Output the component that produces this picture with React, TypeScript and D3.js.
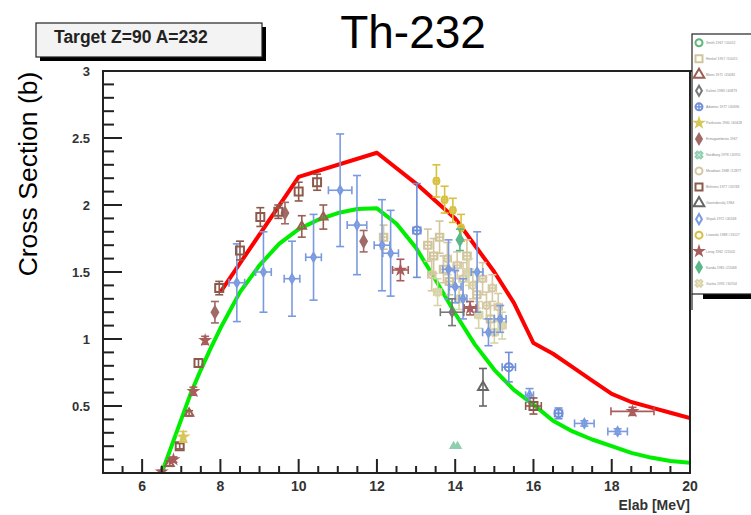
import React from "react";
import * as d3 from "d3";

// ---------- data ----------
const xDomain: [number, number] = [5, 20];
const yDomain: [number, number] = [0, 3];
const xMajorTicks = [6, 8, 10, 12, 14, 16, 18, 20];
const xTickLabels = ["6", "8", "10", "12", "14", "16", "18", "20"];
const yMajorTicks = [0.5, 1, 1.5, 2, 2.5, 3];
const yTickLabels = ["0.5", "1", "1.5", "2", "2.5", "3"];

const redE = [8, 10, 12, 13, 14, 14.5, 15, 15.5, 16, 16.5, 17, 17.5, 18, 18.5, 19, 19.5, 20];
const redXS = [1.35, 2.21, 2.39, 2.16, 1.9, 1.7, 1.5, 1.27, 0.97, 0.89, 0.79, 0.69, 0.59, 0.53, 0.49, 0.45, 0.41];

const greenE = [6.5, 6.75, 7, 7.25, 7.5, 7.75, 8, 8.5, 9, 9.5, 10, 10.5, 11, 11.5, 12, 12.5, 13, 13.5, 14, 14.5, 15, 15.5, 16, 16.5, 17, 17.5, 18, 18.5, 19, 19.5, 20];
const greenXS = [0, 0.2, 0.4, 0.6, 0.77, 0.93, 1.08, 1.35, 1.55, 1.71, 1.82, 1.89, 1.94, 1.97, 1.975, 1.86, 1.68, 1.44, 1.19, 0.96, 0.77, 0.62, 0.51, 0.39, 0.31, 0.25, 0.2, 0.15, 0.115, 0.09, 0.077];

const legendLabels = [
  "Smith 1967 #10012",
  "Henkel 1957 #10015",
  "Blons 1971 #20081",
  "Kalinin 1983 #40873",
  "Adamov 1977 #40396",
  "Pankratov 1960 #40428",
  "Ermagambetov 1967",
  "Nordborg 1978 #20911",
  "Meadows 1988 #12877",
  "Behrens 1977 #20748",
  "Goverdovskij 1984",
  "Shpak 1972 #40168",
  "Lisowski 1988 #13127",
  "Leroy 1962 #21002",
  "Kanda 1985 #22068",
  "Garlea 1992 #30704",
];
const legendColors = [
  "#5cb87a", "#d2c59c", "#9a5e52", "#777777", "#6f8fd8", "#d8c65a", "#a06a66", "#8fcfb0",
  "#d4c9a4", "#8c5a4c", "#666666", "#7a9ae0", "#d8c040", "#a85c5c", "#5ab888", "#d8d4a8",
];
const legendShapes = [
  "circle", "square", "triangle", "diamond", "circlePlus", "star", "diamondFilled", "x",
  "circle", "square", "triangle", "diamond", "circle", "star", "diamondFilled", "x",
];

// points: [E (MeV), sigma (b), d sigma, d E]
const brownTriangle = [[6.7, 0.07, 0.02, 0], [7.2, 0.445, 0.02, 0], [10.08, 1.84, 0.08, 0], [10.63, 1.91, 0.09, 0]];
const brownDiamond = [[7.86, 1.2, 0.08, 0], [9.65, 1.94, 0.08, 0], [11.66, 1.73, 0.08, 0]];
const brownSquare = [[6.96, 0.2, 0.02, 0], [7.44, 0.82, 0.03, 0], [7.97, 1.38, 0.05, 0], [8.5, 1.66, 0.07, 0], [9.02, 1.91, 0.07, 0], [9.48, 1.95, 0.05, 0], [10.0, 2.1, 0.07, 0], [10.47, 2.17, 0.06, 0], [16.0, 0.5, 0.06, 0.2]];
const brownStar = [[6.5, 0.01, 0.01, 0], [6.8, 0.1, 0.02, 0], [7.31, 0.61, 0.03, 0], [7.61, 0.99, 0.03, 0], [12.6, 1.515, 0.08, 0.2], [14.38, 1.23, 0.05, 0.15], [18.53, 0.46, 0.03, 0.55]];
const yellowStar = [[7.05, 0.27, 0.04, 0]];
const blueCirclePlus = [[13.02, 1.81, 0.35, 0.1], [16.64, 0.445, 0.04, 0.1], [15.37, 0.79, 0.11, 0.17]];
const blueDiamond = [
  [8.42, 1.42, 0.29, 0.2], [9.1, 1.5, 0.3, 0.2], [9.83, 1.45, 0.28, 0.2], [10.38, 1.61, 0.32, 0.2],
  [11.06, 2.11, 0.42, 0.3], [11.49, 1.85, 0.37, 0.25], [12.13, 1.7, 0.34, 0.2], [12.35, 1.64, 0.32, 0.2],
  [13.83, 1.52, 0.22, 0.15], [14.0, 1.39, 0.12, 0.15], [14.56, 1.5, 0.3, 0.15], [14.2, 1.3, 0.15, 0.1],
  [14.85, 1.05, 0.1, 0.15], [15.15, 1.15, 0.1, 0.15], [15.9, 0.58, 0.05, 0.1], [17.3, 0.37, 0.02, 0.25],
  [18.15, 0.31, 0.02, 0.25],
];
const grayDiamond = [[13.92, 1.2, 0.1, 0.3]];
const tanSquare = [[12.17, 1.76, 0.09, 0.1], [13.3, 1.7, 0.12, 0.1], [13.45, 1.62, 0.13, 0.1], [13.6, 1.76, 0.12, 0.1], [13.7, 1.52, 0.1, 0.1], [13.85, 1.43, 0.1, 0.1], [14.3, 1.62, 0.12, 0.1], [14.55, 1.33, 0.1, 0.1], [14.9, 1.15, 0.1, 0.1]];
const tanCircle = [[13.4, 1.48, 0.12, 0.1], [13.8, 1.6, 0.12, 0.1], [14.05, 1.55, 0.1, 0.1], [14.2, 1.45, 0.12, 0.1], [14.45, 1.4, 0.1, 0.1], [14.7, 1.45, 0.12, 0.1], [14.8, 1.25, 0.1, 0.1], [14.95, 1.38, 0.1, 0.1], [15.1, 1.24, 0.1, 0.1]];
const tanX = [[13.55, 1.35, 0.1, 0.1], [14.1, 1.3, 0.08, 0.1], [14.6, 1.18, 0.1, 0.1], [15.0, 1.05, 0.08, 0.1], [15.2, 1.1, 0.1, 0.1], [14.35, 1.5, 0.1, 0.1]];
const yellowCircle = [[13.52, 2.18, 0.12, 0.05], [13.73, 2.04, 0.1, 0.05], [13.94, 1.96, 0.09, 0.05], [14.15, 1.83, 0.1, 0.05]];
const tealDiamond = [[14.12, 1.74, 0.08, 0]];
const grayTriangle = [[14.71, 0.64, 0.14, 0]];
const tealSmall = [[13.96, 0.2, 0, 0], [14.06, 0.2, 0, 0]];

const dataSeries = [
  { style: 1, size: 7, points: tanSquare },
  { style: 8, size: 7, points: tanCircle },
  { style: 15, size: 7, points: tanX },
  { style: 12, size: 6, points: yellowCircle },
  { style: 11, size: 6, points: blueDiamond },
  { style: 4, size: 8, points: blueCirclePlus },
  { style: 3, size: 6, points: grayDiamond },
  { style: 2, size: 5.5, points: brownTriangle },
  { style: 6, size: 8, points: brownDiamond },
  { style: 9, size: 8, points: brownSquare },
  { style: 13, size: 5.5, points: brownStar },
  { style: 5, size: 6, points: yellowStar },
  { style: 14, size: 8, points: tealDiamond },
  { style: 10, size: 6.5, points: grayTriangle },
  { style: 7, size: 4, points: tealSmall, shape: "triangleFilled" },
];

// ---------- drawing ----------
const W = 751;
const H = 515;
const PL = 103, PR = 690, PT = 71, PB = 473;

const x = d3.scaleLinear().domain(xDomain).range([PL, PR]);
const y = d3.scaleLinear().domain(yDomain).range([PB, PT]);

const symbolTypes: Record<string, any> = {
  circle: d3.symbolCircle,
  square: d3.symbolSquare,
  triangle: d3.symbolTriangle,
  triangleFilled: d3.symbolTriangle,
  diamond: d3.symbolDiamond,
  diamondFilled: d3.symbolDiamond,
  star: d3.symbolStar,
  x: d3.symbolCross,
  circlePlus: d3.symbolCircle,
};

function Marker({ cx, cy, shape, color, size }: { cx: number; cy: number; shape: string; color: string; size: number }) {
  const area = size * size * (shape === "circle" || shape === "circlePlus" ? 0.785 : shape === "diamond" || shape === "diamondFilled" ? 0.6 : shape === "star" ? 0.9 : shape === "x" ? 0.6 : 1);
  const path = d3.symbol().type(symbolTypes[shape]).size(area)() || "";
  const filled = shape === "diamondFilled" || shape === "star" || shape === "triangleFilled";
  const rot = shape === "x" ? 45 : 0;
  return (
    <g transform={`translate(${cx},${cy}) rotate(${rot})`}>
      <path d={path} fill={filled ? color : "none"} stroke={color} strokeWidth={shape === "star" ? 1.5 : 2} />
      {shape === "circlePlus" && (
        <g stroke={color} strokeWidth={1.5}>
          <line x1={-size / 2} x2={size / 2} y1={0} y2={0} />
          <line y1={-size / 2} y2={size / 2} x1={0} x2={0} />
        </g>
      )}
    </g>
  );
}

function ErrorBars({ p, color }: { p: number[]; color: string }) {
  const [e, v, dv, de] = p;
  const cx = x(e), cy = y(v);
  const cap = 4;
  return (
    <g stroke={color} strokeWidth={1.6} fill="none">
      {dv > 0 && (
        <>
          <line x1={cx} x2={cx} y1={y(v - dv)} y2={y(v + dv)} />
          <line x1={cx - cap} x2={cx + cap} y1={y(v - dv)} y2={y(v - dv)} />
          <line x1={cx - cap} x2={cx + cap} y1={y(v + dv)} y2={y(v + dv)} />
        </>
      )}
      {de > 0 && (
        <>
          <line x1={x(e - de)} x2={x(e + de)} y1={cy} y2={cy} />
          <line x1={x(e - de)} x2={x(e - de)} y1={cy - cap} y2={cy + cap} />
          <line x1={x(e + de)} x2={x(e + de)} y1={cy - cap} y2={cy + cap} />
        </>
      )}
    </g>
  );
}

export default function App() {
  const lineGen = d3
    .line<[number, number]>()
    .x((d) => x(d[0]))
    .y((d) => y(d[1]));
  const redPts = redE.map((e, i) => [e, redXS[i]] as [number, number]);
  const greenPts = greenE.map((e, i) => [e, greenXS[i]] as [number, number]);

  const yMinor = d3.range(0.1, 3.0001, 0.1).filter((t) => Math.abs(t * 2 - Math.round(t * 2)) > 1e-6);
  const xMinor = d3.range(5.5, 20, 0.5).filter((t) => !xMajorTicks.includes(t));

  const font = "'Liberation Sans', Arial, Helvetica, sans-serif";

  return (
    <svg width={W} height={H} style={{ position: "absolute", left: 0, top: 0, background: "#fff" }} fontFamily={font}>
      <defs>
        <clipPath id="plotClip">
          <rect x={PL} y={PT} width={PR - PL} height={PB - PT} />
        </clipPath>
      </defs>

      {/* target label box */}
      <rect x={40} y={27} width={226} height={34} fill="#000" />
      <rect x={36} y={23} width={226} height={34} fill="#f3f3f3" stroke="#222" strokeWidth={1.2} />
      <text x={54} y={43} fontSize={17.5} fontWeight="bold" fill="#222">Target Z=90 A=232</text>

      {/* title */}
      <text x={413} y={48} fontSize={46} textAnchor="middle" fill="#000">Th-232</text>

      {/* y axis title */}
      <text transform="translate(37,174) rotate(-90)" fontSize={26.5} textAnchor="middle" fill="#000">Cross Section (b)</text>

      {/* curves */}
      <g clipPath="url(#plotClip)">
        <path d={lineGen(redPts) || ""} fill="none" stroke="#ff0000" strokeWidth={4} strokeLinejoin="round" />
        <path d={lineGen(greenPts) || ""} fill="none" stroke="#00ee00" strokeWidth={4} strokeLinejoin="round" />
      </g>

      {/* data */}
      <g clipPath="url(#plotClip)">
        {dataSeries.map((s, si) => (
          <g key={si}>
            {s.points.map((p, pi) => (
              <ErrorBars key={pi} p={p} color={legendColors[s.style]} />
            ))}
            {s.points.map((p, pi) => (
              <Marker key={"m" + pi} cx={x(p[0])} cy={y(p[1])} shape={(s as any).shape || legendShapes[s.style]} color={legendColors[s.style]} size={s.size} />
            ))}
          </g>
        ))}
      </g>

      {/* frame */}
      <rect x={PL} y={PT} width={PR - PL} height={PB - PT} fill="none" stroke="#222" strokeWidth={2} />
      <line x1={PR} x2={692} y1={PT} y2={PT} stroke="#222" strokeWidth={2} />

      {/* y ticks */}
      {yMajorTicks.map((t, i) => (
        <g key={"ym" + i}>
          <line x1={PL} x2={PL + 19} y1={y(t)} y2={y(t)} stroke="#222" strokeWidth={2} />
          <text x={90} y={y(t) + 4.5} fontSize={13} fontWeight="bold" textAnchor="end" fill="#333">{yTickLabels[i]}</text>
        </g>
      ))}
      {yMinor.map((t, i) => (
        <line key={"yn" + i} x1={PL} x2={PL + 11} y1={y(t)} y2={y(t)} stroke="#222" strokeWidth={2} />
      ))}

      {/* x ticks */}
      {xMajorTicks.map((t, i) => (
        <g key={"xm" + i}>
          <line x1={x(t)} x2={x(t)} y1={PB} y2={PB - 14} stroke="#222" strokeWidth={2} />
          <text x={x(t)} y={491} fontSize={14} fontWeight="bold" textAnchor="middle" fill="#333">{xTickLabels[i]}</text>
        </g>
      ))}
      {xMinor.map((t, i) => (
        <line key={"xn" + i} x1={x(t)} x2={x(t)} y1={PB} y2={PB - 7} stroke="#222" strokeWidth={2} />
      ))}
      <text x={PR} y={510} fontSize={14} fontWeight="bold" textAnchor="end" fill="#333">Elab [MeV]</text>

      {/* legend */}
      <rect x={703} y={293} width={60} height={6} fill="#000" />
      <rect x={692} y={34} width={70} height={260} fill="#fff" stroke="#222" strokeWidth={1.2} />
      <line x1={692} x2={692} y1={294} y2={310} stroke="#222" strokeWidth={1.2} />
      {legendLabels.map((lab, i) => {
        const ly = 42.7 + i * 16.04;
        return (
          <g key={"lg" + i}>
            <Marker cx={699} cy={ly} shape={legendShapes[i]} color={legendColors[i]} size={legendShapes[i] === "star" ? 5.5 : 7} />
            <text x={706} y={ly + 1.3} fontSize={3.4} fill="#8a8a8a">{lab}</text>
          </g>
        );
      })}
    </svg>
  );
}
